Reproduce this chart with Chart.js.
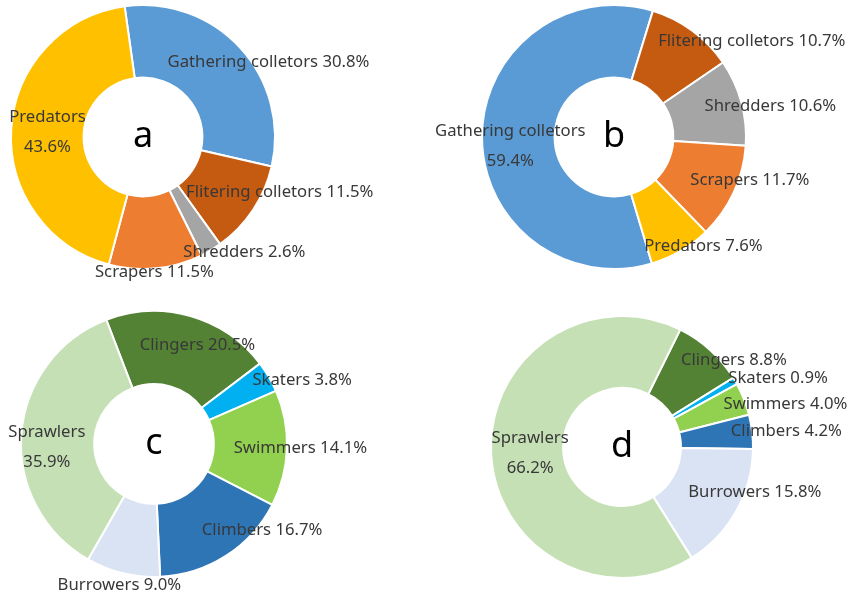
<!DOCTYPE html>
<html><head><meta charset="utf-8">
<script src="https://cdn.jsdelivr.net/npm/chart.js@4/dist/chart.umd.min.js"></script>
<style>
html,body{margin:0;padding:0;background:#fff;}
#wrap{position:relative;width:848px;height:597px;overflow:hidden;}
canvas{position:absolute;}
</style></head><body>
<div id="wrap">
<canvas id="ca" width="424" height="300" style="left:0;top:0"></canvas>
<canvas id="cb" width="424" height="300" style="left:424px;top:0"></canvas>
<canvas id="cc" width="424" height="297" style="left:0;top:300px"></canvas>
<canvas id="cd" width="424" height="297" style="left:424px;top:300px"></canvas>
</div>
<script>
// ---- data ----
const feedingGroups = ['Gathering colletors', 'Flitering colletors', 'Shredders', 'Scrapers', 'Predators'];
const feedingA = [30.8, 11.5, 2.6, 11.5, 43.6];
const feedingB = [59.4, 10.7, 10.6, 11.7, 7.6];
const habitGroups = ['Clingers', 'Skaters', 'Swimmers', 'Climbers', 'Burrowers', 'Sprawlers'];
const habitC = [20.5, 3.8, 14.1, 16.7, 9.0, 35.9];
const habitD = [8.8, 0.9, 4.0, 4.2, 15.8, 66.2];
const panelLetters = ['a', 'b', 'c', 'd'];

// ---- styles ----
const feedingColors = ['#5B9BD5', '#C55A11', '#A5A5A5', '#ED7D31', '#FFC000'];
const habitColors = ['#548235', '#00B0F0', '#92D050', '#2E75B6', '#DAE3F3', '#C5E0B4'];
const labelFont = '16.7px "Noto Sans", "Open Sans", sans-serif';
const centerFont = '36px "Noto Sans", "Open Sans", sans-serif';

const labelPlugin = {
  id: 'sliceLabels',
  afterDatasetsDraw(chart, args, opts) {
    const ctx = chart.ctx;
    const meta = chart.getDatasetMeta(0);
    const ds = chart.data.datasets[0];
    ctx.save();
    ctx.textAlign = 'center';
    ctx.textBaseline = 'middle';
    ctx.font = labelFont;
    ctx.fillStyle = '#383838';
    meta.data.forEach((arc, i) => {
      const p = arc.getProps(['x', 'y', 'startAngle', 'endAngle', 'innerRadius', 'outerRadius'], true);
      const mid = (p.startAngle + p.endAngle) / 2;
      const r = (p.innerRadius + p.outerRadius) / 2;
      const x = p.x + Math.cos(mid) * r + opts.nudge[i][0];
      const y = p.y + Math.sin(mid) * r + opts.nudge[i][1];
      const name = chart.data.labels[i];
      const pct = ds.data[i].toFixed(1) + '%';
      if (i === opts.wrap) {
        ctx.fillText(name, x, y - 15);
        ctx.fillText(pct, x, y + 15);
      } else {
        ctx.fillText(name + ' ' + pct, x, y);
      }
    });
    const c = meta.data[0];
    ctx.font = centerFont;
    ctx.fillStyle = '#000';
    ctx.fillText(opts.letter, c.x, c.y);
    ctx.restore();
  }
};

function makeChart(id, labels, values, colors, rotation, padding, nudge, wrap, letter) {
  return new Chart(document.getElementById(id), {
    type: 'doughnut',
    data: {
      labels: labels,
      datasets: [{
        data: values,
        backgroundColor: colors,
        borderColor: '#ffffff',
        borderWidth: 2,
        hoverBorderWidth: 2
      }]
    },
    options: {
      responsive: false,
      animation: false,
      cutout: '45%',
      rotation: rotation,
      layout: { padding: padding },
      plugins: {
        legend: { display: false },
        tooltip: { enabled: false },
        sliceLabels: { nudge: nudge, wrap: wrap, letter: letter }
      }
    },
    plugins: [labelPlugin]
  });
}

makeChart('ca', feedingGroups, feedingA, feedingColors, -8,
  { left: 10, top: 4, right: 148, bottom: 30 },
  [[55, -10], [57, 2], [52, 33], [2, 40], [0, 1]], 4, panelLetters[0]);
makeChart('cb', feedingGroups, feedingB, feedingColors, 163.3,
  { left: 57, top: 4, right: 101, bottom: 30 },
  [[-8, 10], [81, -19], [64, -6], [49, 3], [41, 27]], 0, panelLetters[1]);
makeChart('cc', habitGroups, habitC, habitColors, -21,
  { left: 20, top: 10, right: 136, bottom: 19 },
  [[17, -6], [65, -15], [50, 1], [56, 5], [-12, 48], [-11, 11]], 5, panelLetters[2]);
makeChart('cd', habitGroups, habitD, habitColors, 26.4,
  { left: 66, top: 15, right: 94, bottom: 18 },
  [[48, -16], [74, -21], [75, -8], [70, -5], [50, -1], [3, 1]], 5, panelLetters[3]);
</script>
</body></html>
